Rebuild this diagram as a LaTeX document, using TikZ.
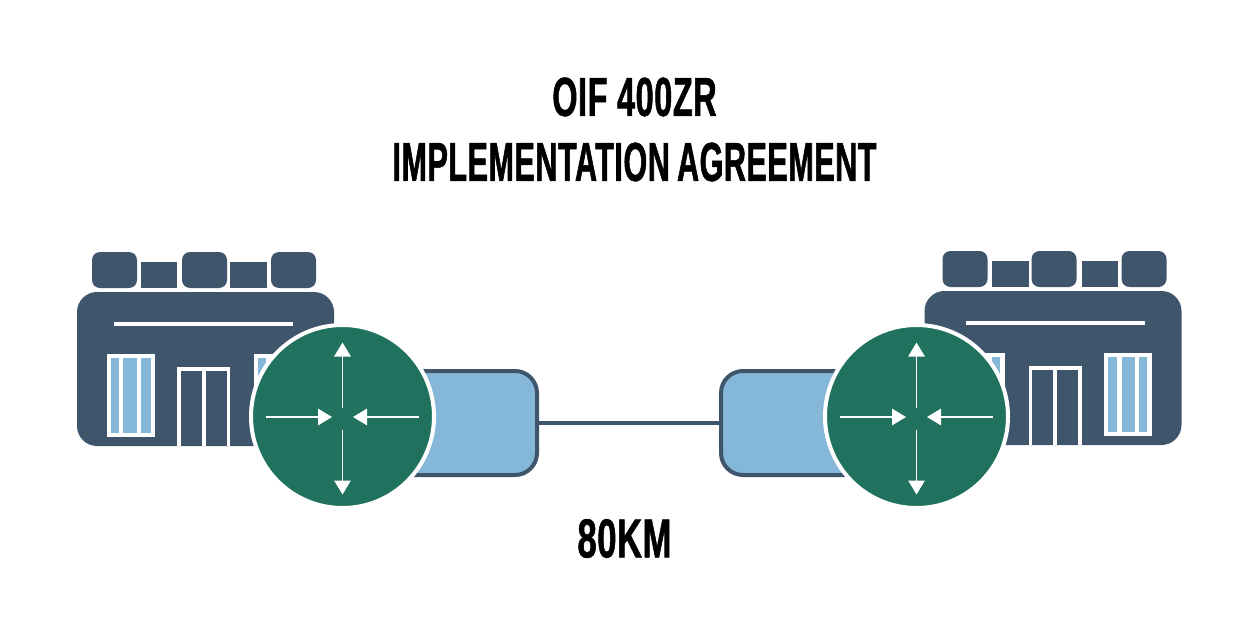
\documentclass[tikz,border=0pt]{standalone}
\usepackage{fontspec}
\usepackage{tikz}
\usetikzlibrary{arrows.meta}
\newfontfamily\heada[FakeStretch=0.59,FakeBold=1,LetterSpace=1]{Liberation Sans Bold}
\newfontfamily\headb[FakeStretch=0.555,FakeBold=1,LetterSpace=1,WordSpace=0.8]{Liberation Sans Bold}
\newfontfamily\headc[FakeStretch=0.63,FakeBold=1,LetterSpace=1]{Liberation Sans Bold}
\definecolor{slate}{HTML}{3F556B}
\definecolor{sky}{HTML}{85B7D9}
\definecolor{teal}{HTML}{20725E}
\tikzset{
	heading/.style={font=#1\fontsize{55}{55}\selectfont, inner sep=0pt},
	link/.style={draw=slate, line width=3.5pt},
	modem/.style={draw=slate, fill=sky, line width=4pt, rounded corners=22pt, minimum width=177pt, minimum height=104pt, inner sep=0pt},
	hub/.style={circle, draw=white, fill=teal, line width=4pt, minimum size=183pt, inner sep=0pt},
	ray/.style={white, line width=1.3pt, -{Triangle[width=16.5pt,length=14pt]}},
	plant/.pic={
		\fill[slate, rounded corners=8pt] (92,252) rectangle (137,288);
		\fill[slate, rounded corners=8pt] (182,252) rectangle (227,288);
		\fill[slate, rounded corners=8pt] (271,252) rectangle (316,288);
		\fill[slate] (141,262) rectangle (177,288);
		\fill[slate] (230,262) rectangle (267,288);
		\fill[slate, rounded corners=20pt] (77,292) rectangle (334,446);
		\fill[white] (114,322) rectangle (293,326);
		\foreach \w in {107,254} {
			\fill[white] (\w,354) rectangle (\w+48,437);
			\fill[sky] (\w+4.3,358) rectangle (\w+12.3,433);
			\fill[sky] (\w+16.3,358) rectangle (\w+30,433);
			\fill[sky] (\w+34.3,358) rectangle (\w+43.7,433);
		}
		\fill[white] (177,367) rectangle (230,446);
		\fill[slate] (181,371) rectangle (201.7,446);
		\fill[slate] (206,371) rectangle (226.7,446);
	}
}
\begin{document}
\begin{tikzpicture}[x=1pt, y=-1pt]
	\useasboundingbox (0,0) rectangle (1250,626);
	\node[heading=\heada] (titlea) at (634.5,97) {OIF 400ZR};
	\node[heading=\headb] (titleb) at (634.5,162) {IMPLEMENTATION AGREEMENT};
	\node[heading=\headc] (reach) at (624.5,538.5) {80KM};
	\pic at (0,0) {plant};
	\pic[xscale=-1] at (1258.5,-1) {plant};
	\node[modem] (modema) at (448.5,423) {};
	\node[modem] (modemb) at (809.5,423) {};
	\draw[link] (modema) -- (modemb);
	\node[hub] (huba) at (342.5,416.5) {};
	\node[hub] (hubb) at (916.5,416.5) {};
	\foreach \h in {huba,hubb} {
		\draw[ray] ([shift={(0,-9)}]\h.center) -- ([shift={(0,-74)}]\h.center);
		\draw[ray] ([shift={(0,13)}]\h.center) -- ([shift={(0,78)}]\h.center);
		\draw[ray] ([shift={(-76.5,0.5)}]\h.center) -- ([shift={(-10.5,0.5)}]\h.center);
		\draw[ray] ([shift={(76.5,0.5)}]\h.center) -- ([shift={(10.5,0.5)}]\h.center);
	}
\end{tikzpicture}
\end{document}
